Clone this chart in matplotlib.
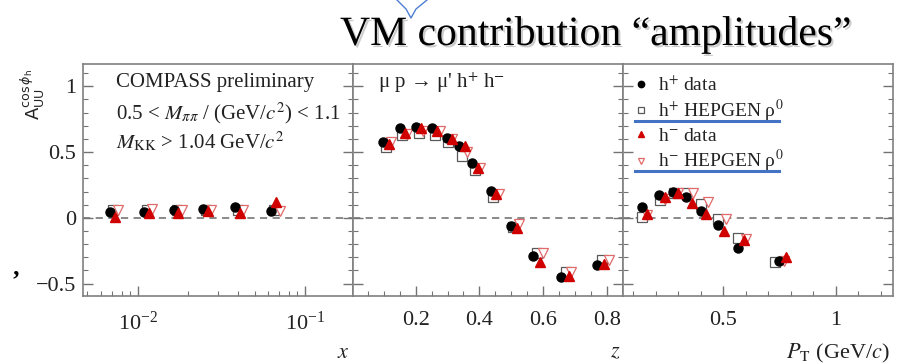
import numpy as np
import matplotlib
matplotlib.use("Agg")
import matplotlib.pyplot as plt
import matplotlib.patheffects as pe
from matplotlib.lines import Line2D
from matplotlib.ticker import MultipleLocator, FuncFormatter, LogLocator, NullFormatter

plt.rcParams["font.family"] = ["Liberation Serif", "DejaVu Serif"]
plt.rcParams["mathtext.fontset"] = "stix"

# ---- data ----
# panel x (Bjorken x, log scale)
x_hp_data = [0.0068, 0.0109, 0.0164, 0.0245, 0.038, 0.063]
a_hp_data = [0.046, 0.046, 0.058, 0.066, 0.084, 0.051]
x_hm_data = [0.0073, 0.0117, 0.0175, 0.0262, 0.0407, 0.0675]
a_hm_data = [0.008, 0.033, 0.038, 0.053, 0.038, 0.117]
x_hp_mc = [0.0071, 0.0113, 0.0171, 0.0255, 0.0396, 0.0655]
a_hp_mc = [0.060, 0.060, 0.060, 0.062, 0.060, 0.058]
x_hm_mc = [0.0076, 0.0122, 0.0184, 0.0274, 0.0426, 0.0705]
a_hm_mc = [0.060, 0.065, 0.060, 0.060, 0.060, 0.055]

# panel z
z_hp_data = [0.098, 0.151, 0.201, 0.252, 0.297, 0.337, 0.378, 0.435, 0.499, 0.567, 0.655, 0.768]
b_hp_data = [0.573, 0.685, 0.690, 0.680, 0.610, 0.545, 0.420, 0.205, -0.060, -0.290, -0.453, -0.360]
z_hm_data = [0.115, 0.166, 0.216, 0.268, 0.313, 0.355, 0.395, 0.452, 0.517, 0.590, 0.680, 0.792]
b_hm_data = [0.565, 0.646, 0.685, 0.660, 0.600, 0.545, 0.380, 0.180, -0.080, -0.340, -0.440, -0.355]
z_hp_mc = [0.106, 0.158, 0.209, 0.260, 0.302, 0.344, 0.386, 0.444, 0.507, 0.580, 0.672, 0.785]
b_hp_mc = [0.540, 0.630, 0.645, 0.630, 0.580, 0.470, 0.360, 0.160, -0.070, -0.270, -0.410, -0.320]
z_hm_mc = [0.122, 0.172, 0.222, 0.275, 0.313, 0.360, 0.403, 0.460, 0.525, 0.600, 0.688, 0.808]
b_hm_mc = [0.580, 0.640, 0.660, 0.660, 0.600, 0.500, 0.380, 0.180, -0.050, -0.270, -0.410, -0.320]

# panel P_T
pt_hp_data = [0.137, 0.215, 0.275, 0.334, 0.400, 0.475, 0.564, 0.750]
c_hp_data = [0.084, 0.173, 0.198, 0.160, 0.053, -0.055, -0.228, -0.327]
pt_hm_data = [0.159, 0.241, 0.300, 0.360, 0.423, 0.503, 0.592, 0.779]
c_hm_data = [0.028, 0.155, 0.185, 0.114, 0.028, -0.099, -0.170, -0.297]
pt_hp_mc = [0.140, 0.220, 0.280, 0.330, 0.400, 0.475, 0.565, 0.730]
c_hp_mc = [0.008, 0.135, 0.190, 0.190, 0.104, -0.012, -0.152, -0.335]
pt_hm_mc = [0.160, 0.240, 0.300, 0.367, 0.430, 0.510, 0.600, 0.770]
c_hm_mc = [0.020, 0.140, 0.190, 0.185, 0.120, -0.010, -0.160, -0.330]

labels = ["h$^{+}$ data", "h$^{+}$ HEPGEN \u03c1$^{0}$",
          "h$^{-}$ data", "h$^{-}$ HEPGEN \u03c1$^{0}$"]
x_titles = ["$x$", "$z$", "$P_{\\rm T}$ (GeV/$c$)"]

RED = "#d00000"
RED_LIGHT = "#e06a6a"
GREY = "0.45"

fig = plt.figure(figsize=(9.07, 3.64), dpi=100)
W, H = 907, 364
def fx(p): return p / W
def fy(p): return 1 - p / H

left, right_edges = 83, [353, 623, 893]
bottom, top = fy(296), fy(64)
axes = []
x0 = left
for xr in right_edges:
    axes.append(fig.add_axes([fx(x0), bottom, fx(xr - x0), top - bottom]))
    x0 = xr

def panel(ax, hp, hm, hpm, hmm):
    h2, = ax.plot(*hpm, ls="none", marker="s", ms=6.5, mfc="white", mec="0.35", mew=0.9, zorder=3)
    h4, = ax.plot(*hmm, ls="none", marker="v", ms=6.5, mfc="white", mec=RED_LIGHT, mew=0.9, zorder=3)
    h1, = ax.plot(*hp, ls="none", marker="o", ms=6.5, color="black", zorder=4)
    h3, = ax.plot(*hm, ls="none", marker="^", ms=6.5, color=RED, zorder=5)
    return [h1, h2, h3, h4]

panel(axes[0], (x_hp_data, a_hp_data), (x_hm_data, a_hm_data), (x_hp_mc, a_hp_mc), (x_hm_mc, a_hm_mc))
panel(axes[1], (z_hp_data, b_hp_data), (z_hm_data, b_hm_data), (z_hp_mc, b_hp_mc), (z_hm_mc, b_hm_mc))
handles = panel(axes[2], (pt_hp_data, c_hp_data), (pt_hm_data, c_hm_data), (pt_hp_mc, c_hp_mc), (pt_hm_mc, c_hm_mc))

fmt = FuncFormatter(lambda v, p: ("%g" % v).replace("-", "\u2212"))
for i, ax in enumerate(axes):
    ax.set_ylim(-0.595, 1.17)
    ax.axhline(0, color="0.5", lw=1.3, ls=(0, (4, 3)), zorder=1)
    ax.yaxis.set_major_locator(MultipleLocator(0.5))
    ax.yaxis.set_minor_locator(MultipleLocator(0.1))
    ax.tick_params(which="both", direction="in", left=True, right=True, top=False,
                   colors=GREY, labelcolor="#222222", labelsize=16)
    ax.tick_params(which="major", length=7, width=1.0)
    ax.tick_params(which="minor", length=3.5, width=0.8)
    ax.tick_params(axis="x", pad=11)
    for s in ax.spines.values():
        s.set_color("0.5"); s.set_linewidth(1.2)
    if i == 0:
        ax.yaxis.set_major_formatter(fmt)
        ax.tick_params(axis="y", pad=5)
    else:
        ax.tick_params(axis="y", labelleft=False)

axes[0].set_xscale("log")
axes[0].set_xlim(0.0047, 0.194)
axes[0].xaxis.set_major_locator(LogLocator(base=10))
axes[0].xaxis.set_minor_locator(LogLocator(base=10, subs=np.arange(2, 10)))
axes[0].xaxis.set_minor_formatter(NullFormatter())

axes[1].set_xlim(0.003, 0.851)
axes[1].xaxis.set_major_locator(MultipleLocator(0.2))
axes[1].xaxis.set_minor_locator(MultipleLocator(0.05))
axes[1].xaxis.set_major_formatter(fmt)

axes[2].set_xlim(0.054, 1.255)
axes[2].xaxis.set_major_locator(MultipleLocator(0.5))
axes[2].xaxis.set_minor_locator(MultipleLocator(0.1))
axes[2].xaxis.set_major_formatter(fmt)

# axis titles, right aligned under each panel
for xr, lab in zip(right_edges, x_titles):
    fig.text(fx(xr - 3), fy(353), lab, ha="right", va="center", fontsize=16, color="#222222")

fig.text(fx(33), fy(95), "A$_{\\rm UU}^{\\cos\\phi_{\\rm h}}$", rotation=90, ha="center", va="center",
         fontsize=13, family="DejaVu Sans", math_fontfamily="dejavusans", color="#222222")

# panel annotations
t_kw = dict(fontsize=15, color="#222222", va="center", ha="left")
fig.text(fx(116), fy(82), "COMPASS preliminary", **t_kw)
fig.text(fx(116), fy(113), "0.5 < $M_{\\pi\\pi}$ / (GeV/$c^{2}$) < 1.1", **t_kw)
fig.text(fx(116), fy(142), "$M_{\\rm KK}$ > 1.04 GeV/$c^{2}$", **t_kw)
fig.text(fx(378), fy(83), "\u03bc p \u2192 \u03bc' h$^{+}$ h$^{-}$", **t_kw)

leg = axes[2].legend(handles, labels, loc="upper left", bbox_to_anchor=(0.0, 1.003), frameon=False,
                     fontsize=14, markerscale=0.7, handlelength=0.7, handletextpad=0.5,
                     labelspacing=0.17, borderaxespad=0.3, borderpad=0.3)
for t in leg.get_texts():
    t.set_color("#222222")

# blue underline strokes from the slide
for yy in (120.7, 171.3):
    fig.add_artist(Line2D([fx(635), fx(779)], [fy(yy), fy(yy)], color="#4472c4", lw=2.2))
# speech bubble pointer
fig.add_artist(Line2D([fx(397), fx(406), fx(411), fx(416), fx(427)],
                      [fy(0), fy(9), fy(18), fy(9), fy(0)], color="#4f7fd0", lw=1.0))

fig.text(fx(340), fy(45), "VM contribution \u201camplitudes\u201d", fontsize=30, color="black",
         ha="left", va="baseline",
         path_effects=[pe.SimplePatchShadow(offset=(1.5, -1.5), alpha=0.2), pe.Normal()])

fig.text(fx(16), fy(281), "\u2019", fontsize=18, fontweight="bold", ha="center", va="center")

fig.savefig("out.png", dpi=100)
